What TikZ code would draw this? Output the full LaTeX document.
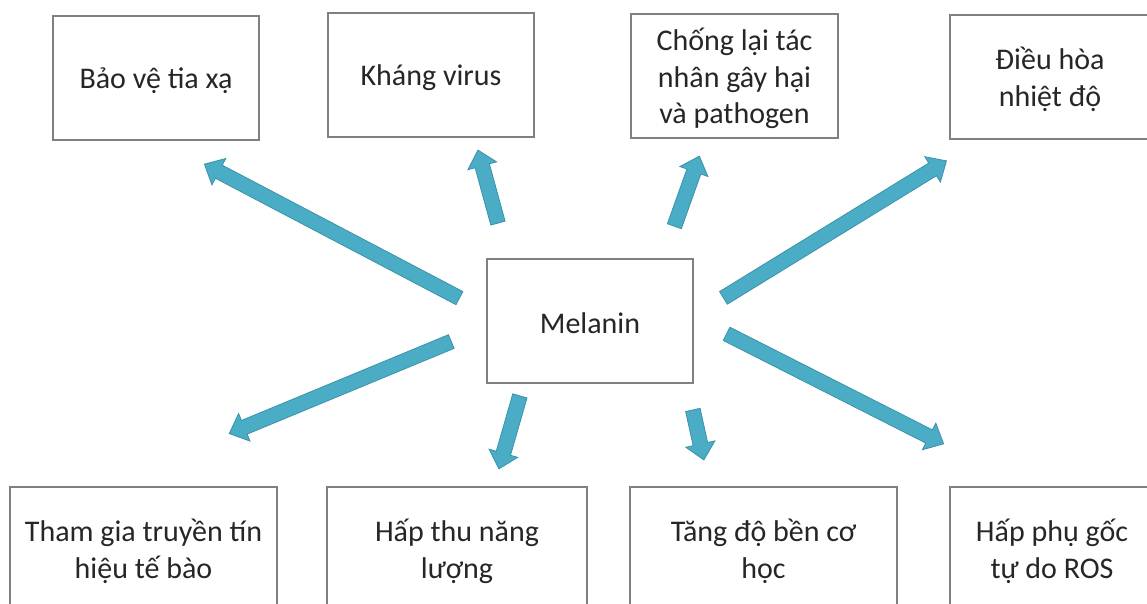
\documentclass[tikz,border=0pt]{standalone}
\usepackage{fontspec}
\setmainfont{Carlito}
\usetikzlibrary{shapes.arrows,calc}
\definecolor{arrowfill}{HTML}{4BACC6}
\definecolor{arrowline}{HTML}{3B93AB}
\definecolor{boxline}{HTML}{808080}
\definecolor{txt}{HTML}{262626}
\tikzset{
  box/.style={draw=boxline, line width=1.2pt, fill=white, inner sep=0pt,
    minimum height=124pt},
  lbl/.style={align=center, inner sep=0pt, text=txt, yshift=-2.5pt,
    font=\fontsize{30}{36.5}\selectfont},
  barrow/.style={single arrow, fill=arrowfill, draw=arrowline, line width=0.8pt,
    inner xsep=0pt, inner ysep=7pt, single arrow head extend=7.5pt,
    single arrow tip angle=85, single arrow head indent=0pt, anchor=center}
}
\newcommand\blockarrow[2]{%
  \path let \p1=($(#2)-(#1)$), \n1={veclen(\x1,\y1)}, \n2={atan2(\y1,\x1)} in
    node[barrow, minimum height=\n1, rotate=\n2] at ($(#1)!0.5!(#2)$) {};}
\begin{document}
\begin{tikzpicture}[x=1pt,y=-1pt]
\clip (0,0) rectangle (1147,604);
\fill[white] (0,0) rectangle (1147,604);
% top boxes
\node[box, minimum width=206pt] (b1) at (156,78) {};
\node[lbl] at (b1) {Bảo vệ tia xạ};
\node[box, minimum width=206pt] (b2) at (431,75) {};
\node[lbl] at (b2) {Kháng virus};
\node[box, minimum width=207pt] (b3) at (734.5,76) {};
\node[lbl] at (b3) {Chống lại tác\\nhân gây hại\\và pathogen};
\node[box, minimum width=200pt] (b4) at (1050,77) {};
\node[lbl] at (b4) {Điều hòa\\nhiệt độ};
% center
\node[box, minimum width=206pt] (m) at (590,321) {};
\node[lbl] at (m) {Melanin};
% bottom boxes
\node[box, minimum width=267pt] (c1) at (143.5,549) {};
\node[lbl] at (c1) {Tham gia truyền tín\\hiệu tế bào};
\node[box, minimum width=260pt] (c2) at (457,549) {};
\node[lbl] at (c2) {Hấp thu năng\\lượng};
\node[box, minimum width=267pt] (c3) at (763.5,549) {};
\node[lbl] at (c3) {Tăng độ bền cơ\\học};
\node[box, minimum width=204pt] (c4) at (1052,549) {};
\node[lbl] at (c4) {Hấp phụ gốc\\tự do ROS};
% arrow ends
\coordinate (t1) at (463,300); \coordinate (h1) at (208,166);
\coordinate (t2) at (499,227); \coordinate (h2) at (479,154);
\coordinate (t3) at (673,230); \coordinate (h3) at (698,160);
\coordinate (t4) at (720,300); \coordinate (h4) at (943,163);
\coordinate (t5) at (723,332); \coordinate (h5) at (940,442);
\coordinate (t6) at (692,406); \coordinate (h6) at (703,456);
\coordinate (t7) at (521,392); \coordinate (h7) at (500,465);
\coordinate (t8) at (455,340); \coordinate (h8) at (233,432);
\blockarrow{t1}{h1}
\blockarrow{t2}{h2}
\blockarrow{t3}{h3}
\blockarrow{t4}{h4}
\blockarrow{t5}{h5}
\blockarrow{t6}{h6}
\blockarrow{t7}{h7}
\blockarrow{t8}{h8}
\end{tikzpicture}
\end{document}
